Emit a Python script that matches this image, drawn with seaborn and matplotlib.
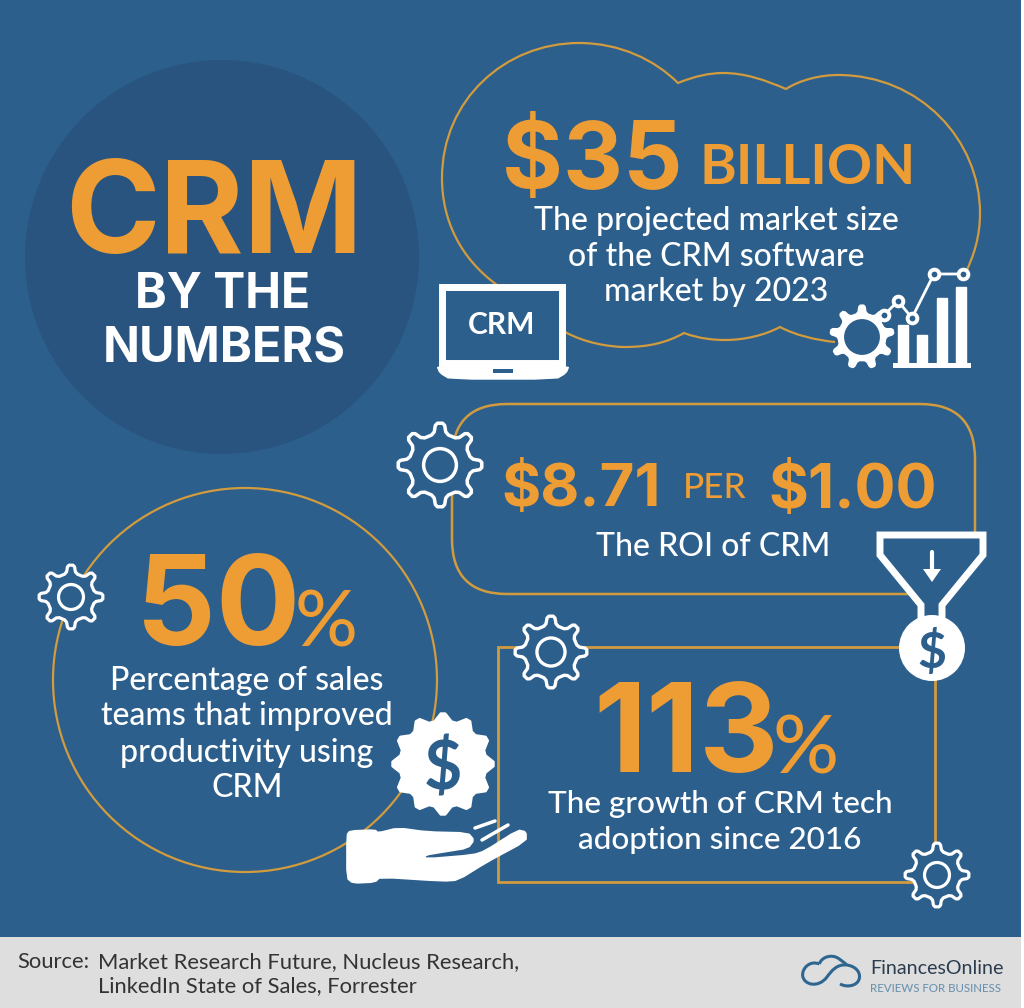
import numpy as np
import pandas as pd
import matplotlib
matplotlib.use("Agg")
import matplotlib.pyplot as plt
import seaborn as sns
from matplotlib.patches import Circle, FancyBboxPatch, PathPatch, Polygon, Rectangle
from matplotlib.path import Path

# Colours
BG = "#2C5F8C"
DISC = "#28547F"
ORANGE = "#EE9C34"
LINE = "#D19B3E"
WHITE = "#FFFFFF"
FOOT = "#DEDEDF"

# Text content
TITLE = ["CRM", "BY THE", "NUMBERS"]
MARKET_LINES = ["The projected market size", "of the CRM software", "market by 2023"]
ROI_TEXT = ["$8.71", "PER", "$1.00", "The ROI of CRM"]
SALES_LINES = ["Percentage of sales", "teams that improved", "productivity using", "CRM"]
ADOPTION_LINES = ["The growth of CRM tech", "adoption since 2016"]
SOURCE_LINES = ["Market Research Future, Nucleus Research,", "LinkedIn State of Sales, Forrester"]

# Bar icon values
ICON_CATS = ["a", "b", "c", "d"]
ICON_BARS = [40, 30, 67, 78]
ICON_LINE_X = [-0.96, -0.24, 0.47, 1.6, 3.09]
ICON_LINE_Y = [50, 64, 47, 91, 91]

sns.set_theme(style="white")
plt.rcParams["font.family"] = ["Lato", "DejaVu Sans"]

fig = plt.figure(figsize=(10.24, 10.08), dpi=100, facecolor=WHITE)
ax = fig.add_axes([0, 0, 1, 1])
ax.set_xlim(0, 1024)
ax.set_ylim(1008, 0)
ax.axis("off")


def label(x, y, s, px, color=WHITE, weight="medium", ha="center", z=10, family=None):
    # px is the em size in pixels
    ax.text(x, y, s, fontsize=px * 0.72, color=color, fontweight=weight, ha=ha, va="center_baseline", zorder=z,
            family=family or ["Lato", "DejaVu Sans"])


def soften(pts, rounds=1):
    # corner cutting so the icon outlines are not so sharp
    pts = np.asarray(pts, dtype=float)
    for _ in range(rounds):
        nxt = np.roll(pts, -1, axis=0)
        pts = np.c_[0.8 * pts + 0.2 * nxt, 0.2 * pts + 0.8 * nxt].reshape(-1, 2)
    return pts


def gear(cx, cy, r, teeth=8, solid=False, lw=2.5):
    angles = []
    radii = []
    step = 2 * np.pi / teeth
    for i in range(teeth):
        a = i * step - np.pi / 2
        angles += [a - step * 0.25, a - step * 0.13, a + step * 0.13, a + step * 0.25]
        radii += [r * 0.75, r, r, r * 0.75]
    pts = np.c_[cx + np.array(radii) * np.cos(angles), cy + np.array(radii) * np.sin(angles)]
    pts = soften(pts)
    if solid:
        ax.add_patch(Polygon(pts, closed=True, fc=WHITE, ec=WHITE, lw=1, joinstyle="round", zorder=6))
        ax.add_patch(Circle((cx, cy), r * 0.56, fc=BG, ec="none", zorder=7))
    else:
        ax.add_patch(Polygon(pts, closed=True, fc=BG, ec=WHITE, lw=lw, joinstyle="round", zorder=6))
        ax.add_patch(Circle((cx, cy), r * 0.39, fc="none", ec=WHITE, lw=lw, zorder=7))


def curve(points, **kw):
    # points: start then triples of bezier control points
    codes = [Path.MOVETO] + [Path.CURVE4] * (len(points) - 1)
    ax.add_patch(PathPatch(Path(points, codes), fill=False, **kw))


# Background, footer and big disc (thin white strip stays on the right edge)
ax.add_patch(Rectangle((0, 0), 1021, 937, fc=BG, ec="none", zorder=0))
ax.add_patch(Rectangle((0, 937), 1021, 71, fc=FOOT, ec="none", zorder=1))
ax.add_patch(Circle((222, 257), 197, fc=DISC, ec="none", zorder=1))

# Cloud outline
cloud = [
    (497, 285),
    (460, 258), (442, 220), (442, 178),
    (442, 100), (505, 43), (579, 43),
    (620, 43), (655, 60), (678, 83),
    (695, 76), (710, 73), (723, 73),
    (745, 73), (765, 80), (786, 89),
    (800, 80), (820, 75), (838, 75),
    (920, 75), (980, 140), (980, 213),
    (980, 235), (975, 255), (962, 280),
]
curve(cloud, ec=LINE, lw=1.6, zorder=3)
cloud_low = [
    (565, 332),
    (585, 343), (610, 347), (625, 347),
    (650, 347), (668, 342), (684, 333),
    (700, 339), (715, 340), (725, 340),
    (745, 340), (765, 335), (780, 327),
    (795, 335), (815, 340), (835, 342),
]
curve(cloud_low, ec=LINE, lw=1.6, zorder=3)

# Rounded ROI box, adoption rectangle, sales circle
ax.add_patch(FancyBboxPatch((452 + 55, 404 + 55), 523 - 110, 190 - 110, boxstyle="round,pad=55,rounding_size=55",
                            fc="none", ec=LINE, lw=1.8, zorder=3))
ax.add_patch(Rectangle((498, 647), 437, 235, fc="none", ec=LINE, lw=2, zorder=3))
ax.add_patch(Circle((245, 680), 192, fc="none", ec=LINE, lw=1.6, zorder=3))

# Title
label(214, 206, TITLE[0], 128, ORANGE, "bold", family="Inter")
label(223, 290, TITLE[1], 48, WHITE, "bold", family="Inter")
label(224, 343, TITLE[2], 48.5, WHITE, "bold", family="Inter")

# Market block
label(592, 155, "$35", 93, ORANGE, "bold", family="Inter")
label(808, 163, "BILLION", 56, ORANGE, "bold")
for y, line in zip([218, 254, 289], MARKET_LINES):
    label(716, y, line, 32)

# ROI block
label(581, 485, ROI_TEXT[0], 60, ORANGE, "bold", family="Inter")
label(715, 485, ROI_TEXT[1], 35, ORANGE, "medium")
label(853, 485, ROI_TEXT[2], 61, ORANGE, "bold", family="Inter")
label(713, 544, ROI_TEXT[3], 32)

# Sales block
label(218, 600, "50", 125, ORANGE, "bold", family="Inter")
label(326, 618, "%", 78, ORANGE, "medium")
for y, line in zip([678, 713, 750, 785], SALES_LINES):
    label(247, y, line, 32)

# Adoption block
label(686, 727, "113", 123, ORANGE, "bold", family="Inter")
label(806, 744, "%", 82, ORANGE, "medium")
for y, line in zip([801, 837], ADOPTION_LINES):
    label(720, y, line, 31.5)

# Outline gears
gear(440, 465, 42)
gear(71, 597, 32, lw=2.3)
gear(551, 652, 36, lw=2.4)
gear(937, 875, 32, lw=2.3)

# Laptop icon
ax.add_patch(Rectangle((442, 287), 120, 76, fc=BG, ec=WHITE, lw=5, zorder=6))
label(502, 322, "CRM", 30, WHITE, "bold")
base = [(437, 366), (569, 366), (566, 373), (556, 379), (450, 379), (440, 373)]
ax.add_patch(Polygon(soften(base), closed=True, fc=WHITE, ec=WHITE, lw=1, zorder=6))
ax.add_patch(Rectangle((493, 369), 20, 4, fc=BG, ec="none", zorder=7))

# Bar chart icon, drawn with seaborn on its own small axes
icon = fig.add_axes([893 / 1024, 1 - 365 / 1008, 78 / 1024, 100 / 1008])
icon.patch.set_alpha(0)
icon_df = pd.DataFrame({"cat": ICON_CATS, "val": ICON_BARS})
sns.barplot(data=icon_df, x="cat", y="val", color=WHITE, saturation=1, width=0.5, ax=icon, zorder=2)
sns.lineplot(x=ICON_LINE_X, y=ICON_LINE_Y, sort=False, color=WHITE, lw=2, marker="o", markersize=7,
             markerfacecolor=BG, markeredgecolor=WHITE, markeredgewidth=2.8, ax=icon, clip_on=False, zorder=3)
icon.set_xlim(-0.5, 3.5)
icon.set_ylim(0, 100)
icon.axis("off")
ax.add_patch(Rectangle((893, 363), 78, 5, fc=WHITE, ec="none", zorder=6))
gear(862, 337, 32, teeth=9, solid=True)

# Funnel icon
funnel = [(880, 535), (983, 535), (983, 555), (942, 605), (942, 628), (921, 628), (921, 605), (880, 555)]
ax.add_patch(Polygon(funnel, closed=True, fc=BG, ec=WHITE, lw=5, joinstyle="miter", zorder=6))
ax.plot([932, 932], [552, 578], color=WHITE, lw=3, zorder=7)
ax.add_patch(Polygon([(923, 569), (941, 569), (932, 582)], closed=True, fc=WHITE, ec="none", zorder=7))
ax.add_patch(Circle((932, 648), 33, fc=WHITE, ec="none", zorder=8))
label(932, 649, "$", 50, BG, "bold", z=9)

# Badge and hand icon
n_pts = 12
ang = np.arange(n_pts * 2) * np.pi / n_pts - np.pi / 2
rad = np.where(np.arange(n_pts * 2) % 2 == 0, 53, 41)
badge = np.c_[443 + rad * np.cos(ang), 764 + rad * np.sin(ang)]
ax.add_patch(Polygon(soften(badge), closed=True, fc=WHITE, ec=WHITE, lw=2, joinstyle="round", zorder=6))
label(443, 765, "$", 66, BG, "bold", z=9)

hand = [
    (347, 835), (350, 831), (375, 830), (378, 833), (398, 828), (427, 832), (468, 833), (474, 840),
    (468, 848), (443, 852), (425, 855), (425, 859), (473, 855), (485, 851), (518, 830), (526, 832),
    (526, 841), (487, 862), (458, 880), (443, 881), (380, 877), (375, 882), (353, 883), (347, 878),
]
ax.add_patch(Polygon(soften(hand), closed=True, fc=WHITE, ec=WHITE, lw=1.2, joinstyle="round", zorder=6))
ax.plot([475, 495], [828, 821], color=WHITE, lw=2.5, solid_capstyle="round", zorder=7)
ax.plot([482, 508], [840, 825], color=WHITE, lw=2.5, solid_capstyle="round", zorder=7)

# Footer text
label(17, 960, "Source:", 22, "#333333", "normal", ha="left")
label(98, 960, SOURCE_LINES[0], 22, "#333333", "normal", ha="left")
label(98, 984, SOURCE_LINES[1], 22, "#333333", "normal", ha="left")
label(870, 967, "FinancesOnline", 19.7, "#2A3C4E", "normal", ha="left")
label(870, 987, "REVIEWS FOR BUSINESS", 11.5, "#6D93AF", "medium", ha="left")

# Logo cloud
curve([(819.3, 964), (810, 960), (801.7, 968.3), (802.7, 976), (804, 985), (818.3, 988.3), (826.7, 977.3),
       (831.7, 970.7), (836.7, 964), (846.7, 965), (855, 966), (860.7, 971.7), (859.3, 978.3),
       (858.3, 985), (848.3, 988.3), (840, 984)], ec="#2F6690", lw=2.2, zorder=5)
curve([(819.3, 964), (821.7, 956.7), (831.7, 954), (838.3, 958.3), (842, 961), (845, 963), (846.7, 965)],
      ec="#2F6690", lw=2.2, zorder=5)

fig.savefig("out.png", dpi=100, facecolor=WHITE)
